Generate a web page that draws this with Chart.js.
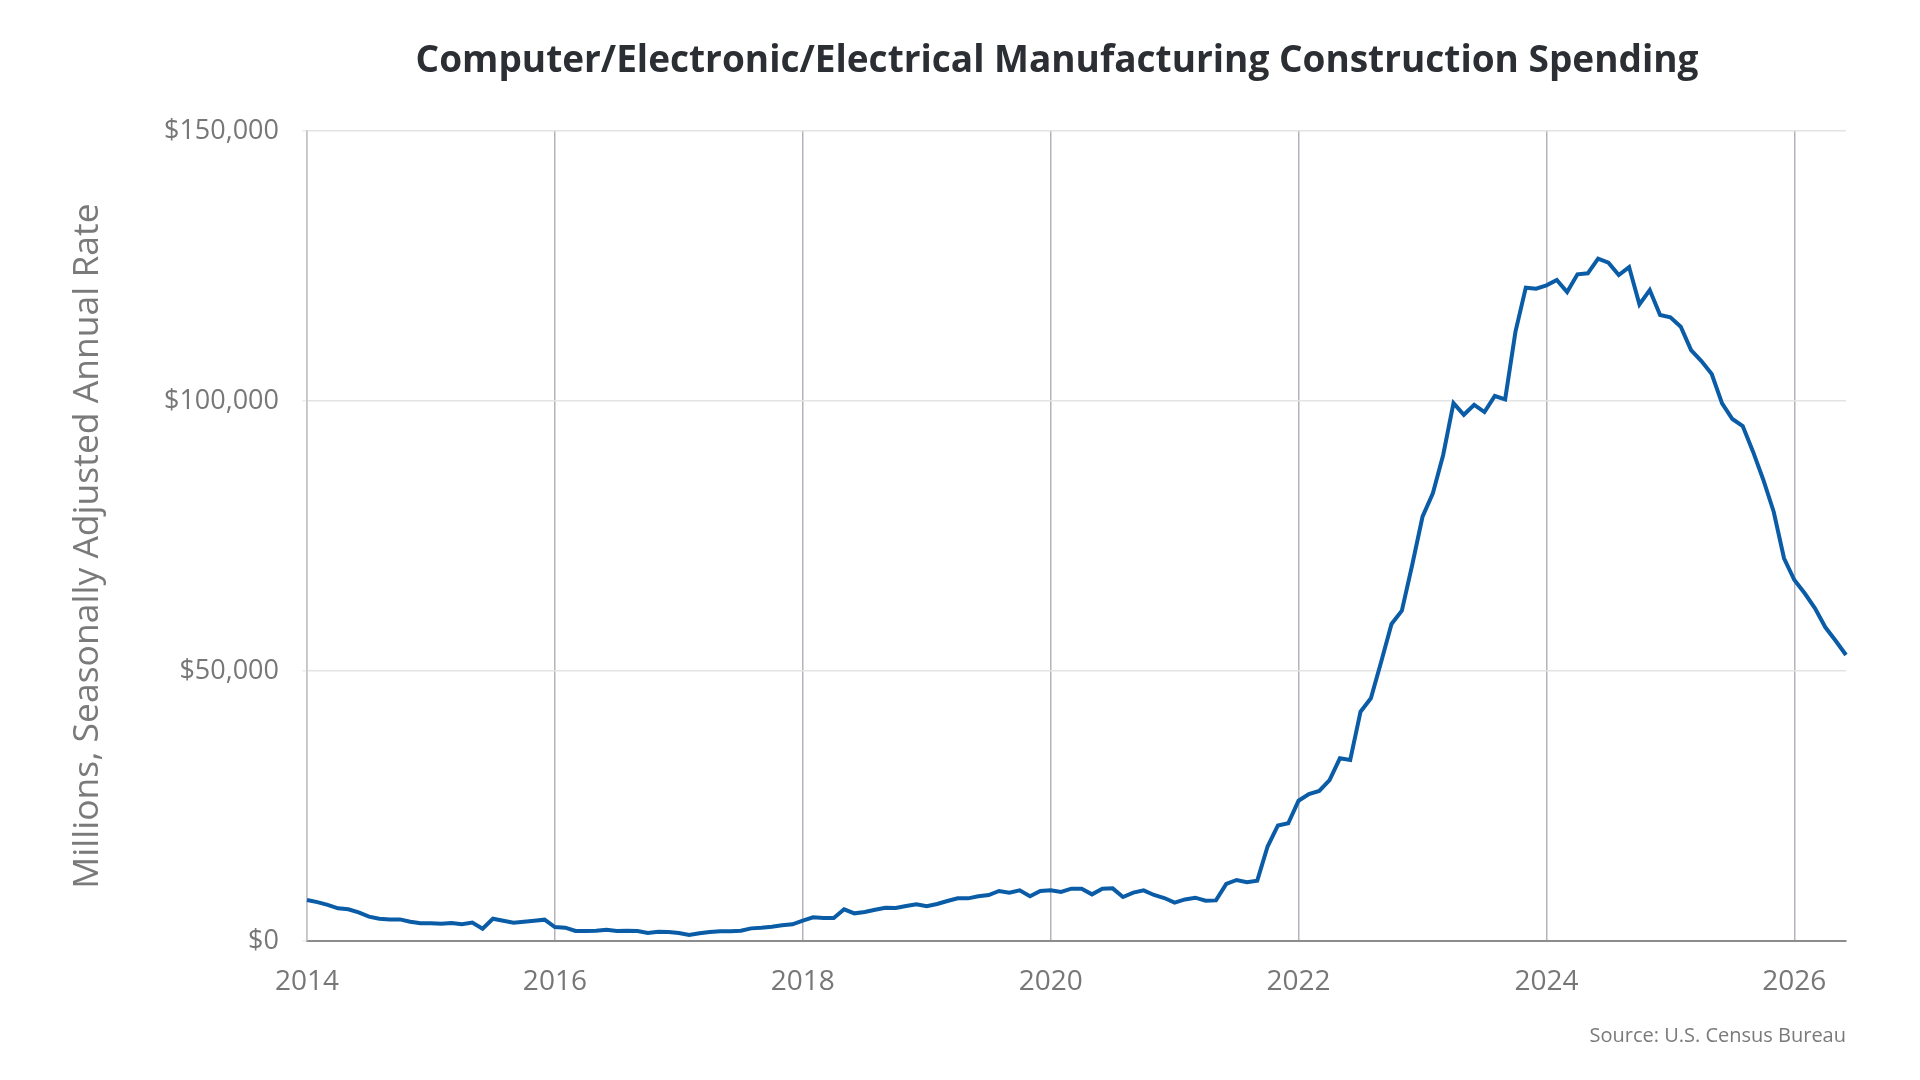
<!DOCTYPE html>
<html>
<head>
<meta charset="utf-8">
<script src="https://cdn.jsdelivr.net/npm/chart.js@4.4.1/dist/chart.umd.min.js"></script>
<style>
  html, body { margin: 0; padding: 0; background: #ffffff; }
  #wrap { width: 1920px; height: 1080px; position: relative; }
  canvas { display: block; }
</style>
</head>
<body>
<div id="wrap"><canvas id="c" width="1920" height="1080"></canvas></div>
<script>
// ---- Data (monthly, Jan 2014 - Jun 2026), millions of dollars SAAR ----
const chartTitle = "Computer/Electronic/Electrical Manufacturing Construction Spending";
const yAxisTitle = "Millions, Seasonally Adjusted Annual Rate";
const sourceNote = "Source: U.S. Census Bureau";
const startYear = 2014;
const monthCount = 150;

const spending2014to2016 = [7600, 7200, 6700, 6050, 5870, 5300, 4500, 4130, 4000, 4000, 3580, 3270,
  3270, 3200, 3330, 3090, 3400, 2280, 4130, 3760, 3400, 3580, 3760, 3950,
  2590, 2470, 1850, 1850, 1900, 2100, 1850];
const spending2016to2018 = [1900, 1850, 1480, 1720, 1660, 1480, 1110, 1420, 1660, 1790, 1790, 1900,
  2340, 2470, 2650, 2900, 3090, 3760, 4380, 4260, 4260, 5870, 5120, 5370,
  5800, 6170, 6110, 6480, 6820, 6450];
const spending2019to2021 = [6850, 7400, 7900, 7900, 8270, 8520, 9260, 8950, 9380, 8270, 9260, 9380,
  9070, 9690, 9690, 8640, 9690, 9750, 8150, 8950, 9380, 8520, 7960, 7100,
  7700, 8020, 7460, 7520, 10560, 11300];
const spending2021to2024 = [10870, 11170, 17500, 21400, 21800, 25980, 27220, 27780, 29800, 33830, 33520, 42470,
  44940, 51720, 58700, 61170, 69630, 78570, 82910, 90000, 99600, 97450, 99300, 97960,
  100930, 100310, 112840, 120990, 120800, 121420];
const spending2024to2026 = [122410, 120190, 123460, 123640, 126360, 125620, 123330, 124800, 117900, 120560, 115930,
  115500, 113760, 109440, 107400, 105000, 99570, 96670, 95370, 90620, 85370, 79500, 70870,
  66850, 64390, 61610, 58090, 55610, 52960];

const spending = [].concat(spending2014to2016, spending2016to2018, spending2019to2021,
  spending2021to2024, spending2024to2026);

const yTicks = [0, 50000, 100000, 150000];
const yearTickEvery = 24; // months between labelled years

// category labels: one per month
const months = [];
for (let i = 0; i < monthCount; i++) {
  const y = startYear + Math.floor(i / 12);
  const m = (i % 12) + 1;
  months.push(y + "-" + (m < 10 ? "0" + m : m));
}

const FONT = "'Open Sans', 'Noto Sans', sans-serif";

const textPlugin = {
  id: 'textPlugin',
  afterDraw(chart) {
    const ctx = chart.ctx;
    ctx.save();
    // main title
    ctx.fillStyle = '#2b2e33';
    ctx.font = "bold 37px " + FONT;
    ctx.textAlign = 'center';
    ctx.textBaseline = 'middle';
    ctx.fillText(chartTitle, 1057, 61);
    // source note
    ctx.fillStyle = '#7a7a7a';
    ctx.font = "20px " + FONT;
    ctx.textAlign = 'right';
    ctx.textBaseline = 'middle';
    ctx.fillText(sourceNote, chart.chartArea.right, 1036);
    // y axis title
    ctx.translate(88, 546);
    ctx.rotate(-Math.PI / 2);
    ctx.fillStyle = '#7a7a7a';
    ctx.font = "35.5px " + FONT;
    ctx.textAlign = 'center';
    ctx.textBaseline = 'middle';
    ctx.fillText(yAxisTitle, 0, 0);
    ctx.restore();
  }
};

new Chart(document.getElementById('c'), {
  type: 'line',
  data: {
    labels: months,
    datasets: [{
      data: spending,
      borderColor: '#0a5ca6',
      borderWidth: 4,
      pointRadius: 0,
      pointHoverRadius: 0,
      tension: 0,
      fill: false
    }]
  },
  options: {
    responsive: false,
    animation: false,
    devicePixelRatio: 1,
    layout: { padding: { top: 131, right: 74, left: 0, bottom: 0 } },
    plugins: {
      legend: { display: false },
      tooltip: { enabled: false },
      title: { display: false }
    },
    scales: {
      x: {
        type: 'category',
        afterFit(scale) { scale.height = 139; },
        grid: {
          drawTicks: false,
          lineWidth: 1.5,
          color(ctx) {
            return (ctx.index % yearTickEvery === 0) ? '#b4b4bc' : 'rgba(0,0,0,0)';
          }
        },
        border: { display: true, color: '#8c8c8c', width: 2 },
        ticks: {
          autoSkip: false,
          maxRotation: 0,
          minRotation: 0,
          padding: 24,
          color: '#777777',
          font: { family: FONT, size: 28 },
          callback(value, index) {
            if (index % yearTickEvery === 0) {
              return this.getLabelForValue(value).slice(0, 4);
            }
            return '';
          }
        }
      },
      y: {
        min: 0,
        max: 150000,
        afterFit(scale) { scale.width = 307; },
        afterBuildTicks(scale) { scale.ticks = yTicks.map(v => ({ value: v })); },
        grid: {
          color: '#e3e3e3',
          lineWidth: 1.5,
          tickLength: 5,
          tickColor: '#eeeeee'
        },
        border: { display: true, color: '#c4c4c8', width: 1.5 },
        ticks: {
          padding: 23,
          color: '#777777',
          font: { family: FONT, size: 27 },
          callback(value) { return '$' + Number(value).toLocaleString('en-US'); }
        },
        title: { display: false }
      }
    }
  },
  plugins: [textPlugin]
});
</script>
</body>
</html>
